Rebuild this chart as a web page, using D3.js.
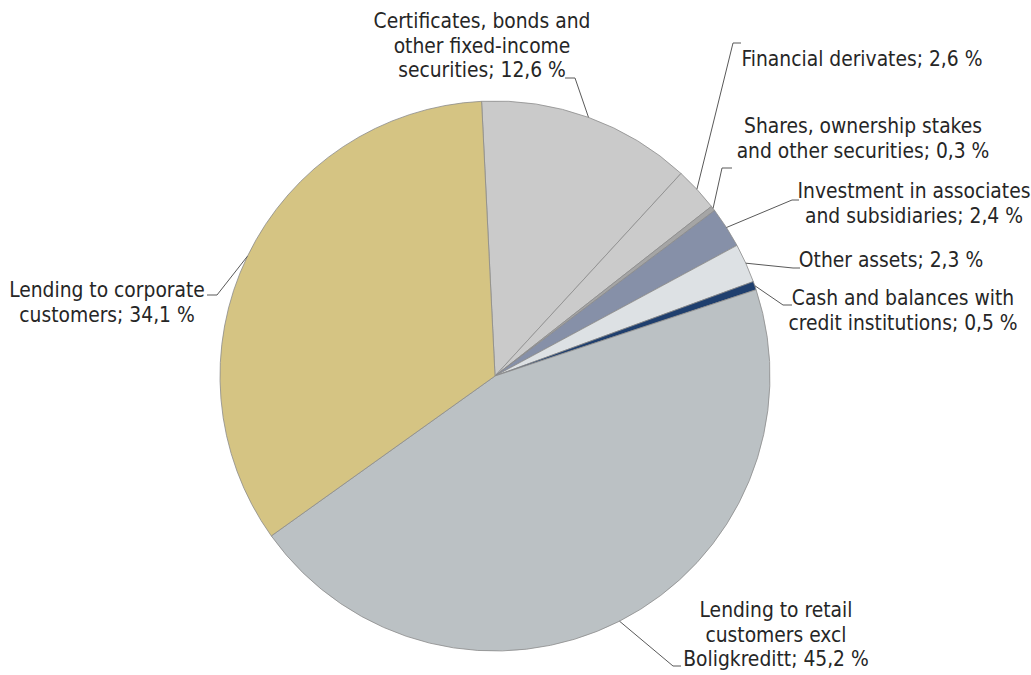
<!DOCTYPE html>
<html>
<head>
<meta charset="utf-8">
<script src="https://cdn.jsdelivr.net/npm/d3@7"></script>
<style>
  body { margin: 0; background: #fff; }
  text { font-family: 'DejaVu Sans Condensed', 'DejaVu Sans', sans-serif; fill: #262626; }
</style>
</head>
<body>
<div id="chart"></div>
<script>
// slices, clockwise from the top
const categories = [
  'Certificates, bonds and other fixed-income securities',
  'Financial derivates',
  'Shares, ownership stakes and other securities',
  'Investment in associates and subsidiaries',
  'Other assets',
  'Cash and balances with credit institutions',
  'Lending to retail customers excl Boligkreditt',
  'Lending to corporate customers'
]
const values = [12.6, 2.6, 0.3, 2.4, 2.3, 0.5, 45.2, 34.1]
const labelLines = [
  ['Certificates, bonds and', 'other fixed-income', 'securities'],
  ['Financial derivates'],
  ['Shares, ownership stakes', 'and other securities'],
  ['Investment in associates', 'and subsidiaries'],
  ['Other assets'],
  ['Cash and balances with', 'credit institutions'],
  ['Lending to retail', 'customers excl', 'Boligkreditt'],
  ['Lending to corporate', 'customers']
]
const colors = ['#cacaca', '#cbcbcb', '#a5a5a5', '#8690a8', '#dde1e4', '#1f3f6e', '#bbc1c4', '#d5c483']

// label placement: centre x, first baseline, leader tick (x0 -> x1 at y, x1 joins the pie)
const labelLayout = [
  { x: 482, y: 28, tick: [565, 575, 78] },
  { x: 862, y: 66, tick: [741, 733, 43] },
  { x: 863, y: 133, tick: [732, 722, 168] },
  { x: 914, y: 198, tick: [799, 792, 200] },
  { x: 891, y: 267, tick: [800, 793, 268] },
  { x: 903, y: 305, tick: [792, 783, 305] },
  { x: 776, y: 617, tick: [681, 673, 666] },
  { x: 107, y: 297, tick: [207, 217, 295] }
]

const width = 1031
const height = 675
const center = { x: 495, y: 376 }
const radius = 275
const lineHeight = 24.5
const start = -2.8 * Math.PI / 180

const svg = d3
  .select('#chart')
  .append('svg')
  .attr('width', width)
  .attr('height', height)

const data = categories.map((c, i) => ({ name: c, value: values[i], lines: labelLines[i], color: colors[i], layout: labelLayout[i] }))

const pie = d3
  .pie()
  .sort(null)
  .value(d => d.value)
  .startAngle(start)
  .endAngle(start + 2 * Math.PI)

const arc = d3.arc().innerRadius(0).outerRadius(radius)
const edgeArc = d3.arc().innerRadius(radius).outerRadius(radius)

const arcs = pie(data)

const g = svg.append('g').attr('transform', `translate(${center.x}, ${center.y})`)

g.selectAll('.slice')
  .data(arcs)
  .enter()
  .append('path')
  .attr('class', 'slice')
  .attr('d', arc)
  .attr('fill', d => d.data.color)
  .attr('stroke', '#8c8c8c')
  .attr('stroke-width', 0.8)

// leader lines
svg.selectAll('.leader')
  .data(arcs)
  .enter()
  .append('polyline')
  .attr('class', 'leader')
  .attr('fill', 'none')
  .attr('stroke', '#595959')
  .attr('stroke-width', 1)
  .attr('points', d => {
    const [x0, x1, y] = d.data.layout.tick
    const p = edgeArc.centroid(d)
    return [[x0, y], [x1, y], [p[0] + center.x, p[1] + center.y]].map(q => q.join(',')).join(' ')
  })

const fmt = v => v.toFixed(1).replace('.', ',') + ' %'

const labels = svg.selectAll('.label')
  .data(data)
  .enter()
  .append('text')
  .attr('class', 'label')
  .attr('text-anchor', 'middle')
  .attr('font-size', '20.8px')
  .attr('x', d => d.layout.x)
  .attr('y', d => d.layout.y)

labels.selectAll('tspan')
  .data(d => d.lines.map((l, i) => ({ text: i === d.lines.length - 1 ? l + '; ' + fmt(d.value) : l, x: d.layout.x, i })))
  .enter()
  .append('tspan')
  .attr('x', d => d.x)
  .attr('dy', d => (d.i === 0 ? 0 : lineHeight))
  .text(d => d.text)
</script>
</body>
</html>
